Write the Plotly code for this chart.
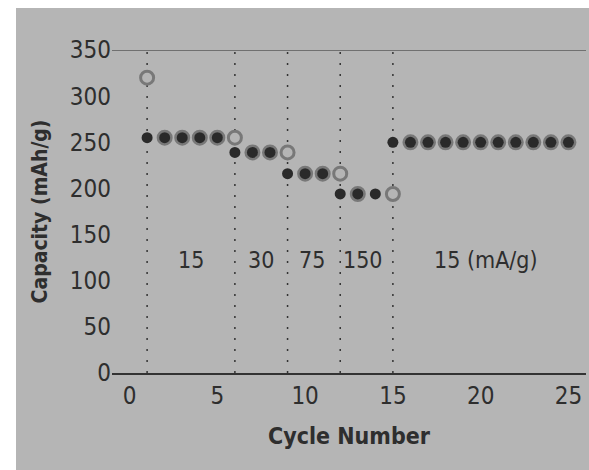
import plotly.graph_objects as go

cycles = list(range(1, 26))
discharge = [255, 255, 255, 255, 255, 239, 239, 239, 216, 216, 216, 194, 194, 194,
             250, 250, 250, 250, 250, 250, 250, 250, 250, 250, 250]
charge = [320, 255, 255, 255, 255, 255, 239, 239, 239, 216, 216, 216, 194, None,
          194, 250, 250, 250, 250, 250, 250, 250, 250, 250, 250]
rate_change_cycles = [1, 6, 9, 12, 15]
rate_labels = ["15", "30", "75", "150", "15 (mA/g)"]
rate_label_x = [3.5, 7.5, 10.4, 13.3, 20.3]
rate_label_y = [122, 122, 122, 122, 122]
x_ticks = [0, 5, 10, 15, 20, 25]
y_ticks = [0, 50, 100, 150, 200, 250, 300, 350]

FONT = "DejaVu Sans Condensed, Liberation Sans Narrow, sans-serif"
BG = "#b5b5b5"
TXT = "#2e2e2e"

W, H = 589, 470
ML, MR, MT, MB = 112, 3, 50, 97
PW, PH = W - ML - MR, H - MT - MB

fig = go.Figure()
fig.add_trace(go.Scatter(
    x=cycles, y=charge, mode="markers",
    marker=dict(symbol="circle", size=13, color=BG, line=dict(width=3, color="#787878")),
    showlegend=False, hoverinfo="x+y"))
fig.add_trace(go.Scatter(
    x=cycles, y=discharge, mode="markers",
    marker=dict(symbol="circle", size=11, color="#2a2a2a", line=dict(width=0)),
    showlegend=False, hoverinfo="x+y"))

shapes = []
for c in rate_change_cycles:
    shapes.append(dict(type="line", xref="x", yref="y", x0=c, x1=c, y0=0, y1=350,
                       line=dict(color="#333333", width=1.5, dash="2px,9px"), layer="below"))
shapes.append(dict(type="line", xref="paper", yref="y", x0=0, x1=1, y0=350, y1=350,
                   line=dict(color="#707070", width=2)))


def px_x(px):
    return (px - ML) / PW


def px_y(py):
    return 1 - (py - MT) / PH


# white page margin around the gray panel (left 16px, top 8px)
shapes.append(dict(type="rect", xref="paper", yref="paper",
                   x0=px_x(-2), x1=px_x(16), y0=px_y(H + 2), y1=px_y(-2),
                   fillcolor="white", line=dict(width=0)))
shapes.append(dict(type="rect", xref="paper", yref="paper",
                   x0=px_x(-2), x1=px_x(W + 2), y0=px_y(8), y1=px_y(-2),
                   fillcolor="white", line=dict(width=0)))

annotations = []
for lx, ly, t in zip(rate_label_x, rate_label_y, rate_labels):
    annotations.append(dict(x=lx, y=ly, xref="x", yref="y", text=t, showarrow=False,
                            font=dict(family=FONT, size=23, color=TXT)))

fig.update_layout(
    width=W, height=H,
    margin=dict(l=ML, r=MR, t=MT, b=MB),
    paper_bgcolor=BG, plot_bgcolor=BG,
    shapes=shapes, annotations=annotations,
    font=dict(family=FONT, color=TXT),
    xaxis=dict(range=[-1, 26], tickvals=x_ticks, showgrid=False, zeroline=False,
               showline=True, linecolor="#333333", linewidth=1.5, ticks="",
               tickfont=dict(family=FONT, size=24, color=TXT),
               title=dict(text="<b>Cycle Number</b>", font=dict(family=FONT, size=23, color=TXT), standoff=19)),
    yaxis=dict(range=[0, 350], tickvals=y_ticks, showgrid=False, zeroline=False,
               showline=False, ticks="",
               tickfont=dict(family=FONT, size=24, color=TXT),
               title=dict(text="<b>Capacity (mAh/g)</b>", font=dict(family=FONT, size=21, color=TXT), standoff=16)),
)

fig.write_html("out.html", config={"displayModeBar": False},
               post_script="document.body.style.margin='0px';document.body.style.overflow='hidden';")
